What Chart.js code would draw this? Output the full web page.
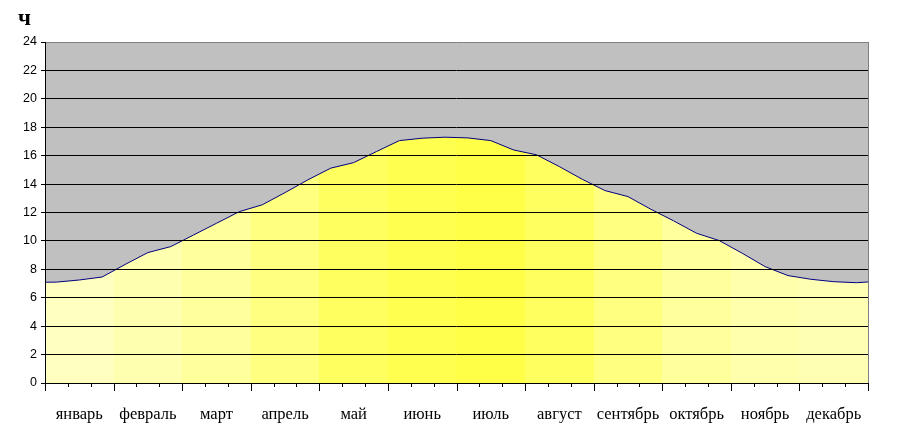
<!DOCTYPE html>
<html>
<head>
<meta charset="utf-8">
<script src="https://cdn.jsdelivr.net/npm/chart.js@4.4.1/dist/chart.umd.min.js"></script>
<style>
html,body{margin:0;padding:0;background:#fff;}
#wrap{width:900px;height:443px;position:relative;}
</style>
</head>
<body>
<div id="wrap"><canvas id="c"></canvas></div>
<script>
// Month names (category labels)
const months = ['январь','февраль','март','апрель','май','июнь','июль','август','сентябрь','октябрь','ноябрь','декабрь'];
// Day length (hours) for each ten-day period (3 per month)
const dayLength = [
  7.10, 7.25, 7.46,
  8.34, 9.18, 9.60,
  10.42, 11.24, 12.06,
  12.54, 13.40, 14.30,
  15.12, 15.51, 16.29,
  17.06, 17.23, 17.30,
  17.25, 17.06, 16.40,
  16.06, 15.23, 14.34,
  13.54, 13.12, 12.23,
  11.41, 10.54, 10.02,
  9.13, 8.19, 7.56,
  7.30, 7.13, 7.06
];
// Values at the very start and end of the year
const yearStart = 7.09;
const yearEnd = 7.11;
// Y-axis ticks
const yTicks = [0,2,4,6,8,10,12,14,16,18,20,22,24];
// Band colour for each month
const monthColors = ['#FFFFC0','#FFFFB0','#FFFF9C','#FFFF80','#FFFF60','#FFFF50',
                     '#FFFF48','#FFFF60','#FFFF80','#FFFF9C','#FFFFAC','#FFFFB4'];

const points = [{x:0,y:yearStart}]
  .concat(dayLength.map((v,i)=>({x:i+0.5,y:v})))
  .concat([{x:dayLength.length,y:yearEnd}]);
const nPeriods = dayLength.length;

let gradCache = null;
function bandGradient(context){
  const chart = context.chart;
  const area = chart.chartArea;
  if(!area) return monthColors[0];
  const xs = chart.scales.x;
  const key = area.left+'_'+area.right;
  if(gradCache && gradCache.key===key) return gradCache.g;
  const g = chart.ctx.createLinearGradient(area.left,0,area.right,0);
  const w = area.right-area.left;
  months.forEach((m,k)=>{
    const a = (xs.getPixelForValue(k*3)-area.left)/w;
    const b = (xs.getPixelForValue(k*3+3)-area.left)/w;
    g.addColorStop(Math.max(0,Math.min(1,a)), monthColors[k]);
    g.addColorStop(Math.max(0,Math.min(1,b-0.0001)), monthColors[k]);
  });
  gradCache = {key,g};
  return g;
}

const decor = {
  id:'decor',
  beforeDraw(chart){
    const {ctx, chartArea:a} = chart;
    ctx.save();
    ctx.fillStyle = '#C0C0C0';
    ctx.fillRect(a.left, a.top, a.right-a.left, a.bottom-a.top);
    ctx.restore();
  },
  afterDraw(chart){
    const {ctx, chartArea:a} = chart;
    const xs = chart.scales.x;
    ctx.save();
    ctx.lineWidth = 1;
    // right border
    ctx.strokeStyle = '#808080';
    ctx.beginPath();
    ctx.moveTo(Math.round(a.right)+0.5, a.top);
    ctx.lineTo(Math.round(a.right)+0.5, a.bottom);
    ctx.stroke();
    // left axis line
    ctx.strokeStyle = '#000';
    ctx.beginPath();
    ctx.moveTo(Math.round(a.left)+0.5, a.top);
    ctx.lineTo(Math.round(a.left)+0.5, a.bottom+1);
    ctx.stroke();
    // x tick marks
    for(let i=0;i<=nPeriods;i++){
      const px = Math.round(xs.getPixelForValue(i))+0.5;
      const len = (i%3===0)?8:4;
      ctx.beginPath();
      ctx.moveTo(px, a.bottom);
      ctx.lineTo(px, a.bottom+len);
      ctx.stroke();
    }
    // unit label
    ctx.fillStyle = '#000';
    ctx.font = 'bold 23px "Liberation Serif"';
    ctx.textBaseline = 'alphabetic';
    ctx.textAlign = 'left';
    ctx.fillText('ч', 18, 25);
    ctx.restore();
  }
};

new Chart(document.getElementById('c'), {
  type:'line',
  data:{
    datasets:[{
      data: points,
      borderColor:'#000080',
      borderWidth:1,
      pointRadius:0,
      tension:0,
      fill:'origin',
      backgroundColor: bandGradient,
      xAxisID:'x'
    }]
  },
  options:{
    responsive:true,
    maintainAspectRatio:false,
    animation:false,
    events:[],
    layout:{padding:{left:0,right:32,top:42,bottom:0}},
    plugins:{legend:{display:false},tooltip:{enabled:false},title:{display:false}},
    scales:{
      x:{
        type:'linear', position:'bottom', min:0, max:nPeriods,
        grid:{display:false},
        border:{display:true,color:'#000',width:1},
        ticks:{display:false},
        afterFit(s){s.height=10;}
      },
      xl:{
        type:'linear', position:'bottom', min:0, max:nPeriods,
        grid:{display:false,drawTicks:false},
        border:{display:false},
        afterBuildTicks(s){ s.ticks = months.map((m,k)=>({value:k*3+1.5})); },
        ticks:{
          autoSkip:false, maxRotation:0, padding:12,
          color:'#000',
          font:{family:'"Liberation Serif"', size:16.5},
          callback:(v,i)=>months[i]
        },
        afterFit(s){s.height=50;}
      },
      y:{
        min:0, max:24,
        afterBuildTicks(s){ s.ticks = yTicks.map(v=>({value:v})); },
        grid:{
          z:1,
          color:(c)=> c.tick && c.tick.value===24 ? '#808080' : '#000',
          lineWidth:1, tickLength:4, tickColor:'#000'
        },
        border:{display:false},
        ticks:{
          color:'#000', padding:4,
          font:{family:'"Liberation Sans"', size:12.5}
        },
        afterFit(s){s.width=45;}
      }
    }
  },
  plugins:[decor]
});
</script>
</body>
</html>
